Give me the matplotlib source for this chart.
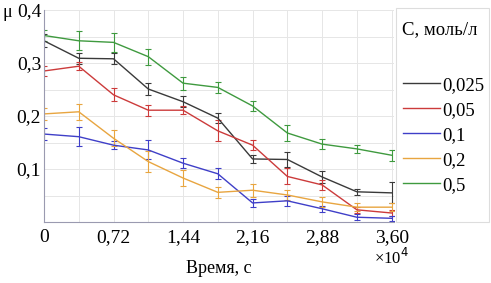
import numpy as np
import matplotlib.pyplot as plt
from matplotlib.patches import Rectangle

# time, x10^4 s
time = [0, 0.36, 0.72, 1.08, 1.44, 1.80, 2.16, 2.52, 2.88, 3.24, 3.60]
xticks = [0, 0.72, 1.44, 2.16, 2.88, 3.60]
xlabels = ["0", "0,72", "1,44", "2,16", "2,88", "3,60"]
yticks = [0.1, 0.2, 0.3, 0.4]
ylabels = ["0,1", "0,2", "0,3", "0,4"]

conc = ["0,025", "0,05", "0,1", "0,2", "0,5"]
colors = ["#3a3a3a", "#cc3b3b", "#3f3fc8", "#e8a540", "#3f9a3f"]

mu_0025 = [0.342, 0.309, 0.308, 0.251, 0.227, 0.196, 0.119, 0.118, 0.085, 0.057, 0.055]
mu_005 = [0.285, 0.294, 0.240, 0.211, 0.211, 0.172, 0.145, 0.086, 0.070, 0.023, 0.017]
mu_01 = [0.166, 0.161, 0.145, 0.136, 0.111, 0.091, 0.036, 0.040, 0.025, 0.009, 0.007]
mu_02 = [0.204, 0.208, 0.158, 0.114, 0.083, 0.056, 0.060, 0.051, 0.038, 0.028, 0.028]
mu_05 = [0.352, 0.342, 0.339, 0.312, 0.262, 0.254, 0.219, 0.168, 0.147, 0.138, 0.126]

err_0025 = [0.012, 0.010, 0.010, 0.012, 0.010, 0.010, 0.008, 0.015, 0.012, 0.006, 0.020]
err_005 = [0.010, 0.008, 0.012, 0.010, 0.008, 0.020, 0.010, 0.015, 0.010, 0.006, 0.006]
err_01 = [0.012, 0.018, 0.008, 0.018, 0.010, 0.010, 0.008, 0.010, 0.006, 0.006, 0.005]
err_02 = [0.012, 0.015, 0.015, 0.020, 0.015, 0.010, 0.012, 0.010, 0.010, 0.008, 0.008]
err_05 = [0.010, 0.018, 0.018, 0.015, 0.012, 0.010, 0.010, 0.015, 0.010, 0.008, 0.010]

series = [mu_0025, mu_005, mu_01, mu_02, mu_05]
errors = [err_0025, err_005, err_01, err_02, err_05]

plt.rcParams['font.family'] = ['Liberation Serif', 'DejaVu Serif']

fig = plt.figure(figsize=(4.91, 2.83), dpi=100)
ax = fig.add_axes([0.0896, 0.2155, 0.712, 0.749])

lines = []
for y, e, c, lab in zip(series, errors, colors, conc):
    eb = ax.errorbar(time, y, yerr=e, color=c, lw=1.0, elinewidth=0.8,
                     capsize=2, capthick=0.8, label=lab)
    lines.append(eb.lines[0])

ax.set_xlim(0, 3.62)
ax.set_ylim(0, 0.4)
ax.set_xticks(xticks)
ax.set_xticklabels(xlabels, fontsize=14)
ax.set_yticks(yticks)
ax.set_yticklabels(ylabels, fontsize=14)
ax.set_xticks(time, minor=True)
ax.set_yticks(np.arange(0, 0.41, 0.05), minor=True)
ax.grid(True, which='both', color='#e6e6e6', lw=0.7)
ax.set_axisbelow(True)
ax.tick_params(axis='x', length=0, which='both', pad=5)
ax.tick_params(axis='y', length=0, which='both', pad=2)
for s in ['top', 'right']:
    ax.spines[s].set_visible(False)
for s in ['left', 'bottom']:
    ax.spines[s].set_color('#9a9ab0')
    ax.spines[s].set_linewidth(0.8)

ax.set_xlabel("Время, с", fontsize=13, labelpad=10)
fig.text(0.006, 0.955, "μ", fontsize=13, va='center')
fig.text(0.762, 0.09, "×10$^4$", fontsize=12, va='center')

# legend panel
fig.patches.append(Rectangle((0.806, 0.215), 0.19, 0.755, transform=fig.transFigure,
                             fill=False, edgecolor='#dddddd', lw=0.8))
fig.text(0.818, 0.895, "С, моль/л", fontsize=13.5, va='center')
fig.legend(lines, conc, loc='upper left', bbox_to_anchor=(0.805, 0.755),
           frameon=False, fontsize=13.5, handlelength=2.0, handletextpad=0.1,
           labelspacing=0.42, borderaxespad=0)

fig.savefig("out.png", dpi=100)
